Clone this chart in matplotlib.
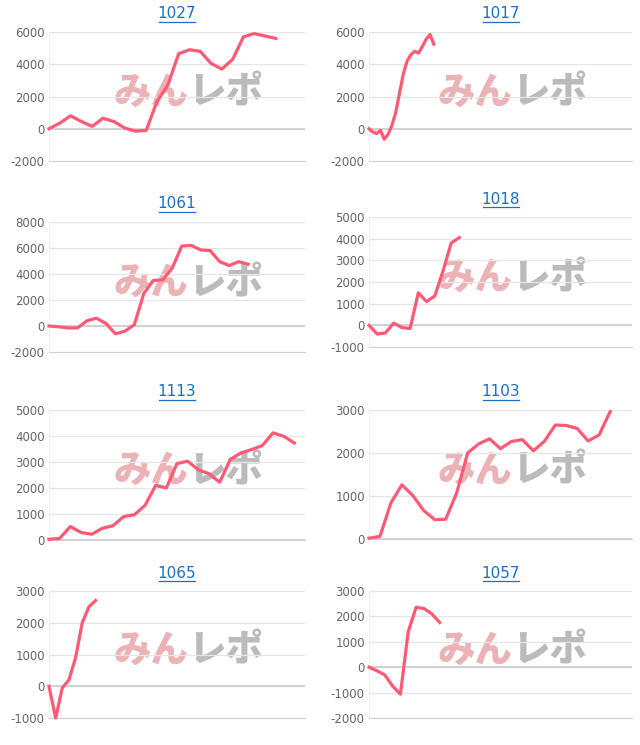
import matplotlib
matplotlib.use("Agg")
import matplotlib.pyplot as plt
from matplotlib.ticker import MultipleLocator

plt.rcParams["axes.unicode_minus"] = False

names = ["1027", "1017", "1061", "1018", "1113", "1103", "1065", "1057"]
s1027 = [0, 350, 800, 450, 150, 650, 450, 50, -150, -100, 1700, 2700, 4650, 4900, 4800, 4050, 3700, 4300, 5700, 5900, 5750, 5600]
s1017 = [0, -200, -300, -100, -650, -350, 200, 1000, 2200, 3400, 4200, 4600, 4800, 4700, 5100, 5550, 5850, 5250]
s1061 = [0, -60, -150, -150, 400, 600, 200, -600, -400, 100, 2500, 3500, 3550, 4450, 6150, 6200, 5850, 5800, 4950, 4650, 4950, 4750]
s1018 = [0, -400, -350, 100, -100, -150, 1500, 1100, 1350, 2500, 3800, 4050]
s1113 = [30, 60, 520, 290, 220, 450, 550, 900, 970, 1330, 2100, 2000, 2940, 3030, 2700, 2550, 2220, 3100, 3350, 3480, 3630, 4120, 3990, 3730]
s1103 = [20, 60, 840, 1260, 1010, 660, 450, 460, 1070, 2000, 2210, 2330, 2100, 2270, 2310, 2050, 2270, 2650, 2640, 2570, 2280, 2420, 2960]
s1065 = [0, -1000, -50, 200, 900, 2000, 2500, 2700]
s1057 = [0, -140, -300, -740, -1060, 1400, 2360, 2310, 2100, 1760]
series = [s1027, s1017, s1061, s1018, s1113, s1103, s1065, s1057]
xmax = [23.7, 69, 27, 32, 24, 24, 38.5, 33.5]
ylims = [(-2000, 6000), (-2000, 6000), (-2000, 8000), (-1000, 5000), (0, 5000), (0, 3000), (-1000, 3000), (-2000, 3000)]
ysteps = [2000, 2000, 2000, 1000, 1000, 1000, 1000, 1000]

boxes = [(49, 305, 32, 161), (369, 632, 32, 161),
         (49, 305, 222, 352), (369, 632, 217, 347),
         (49, 305, 410, 540), (369, 632, 410, 539),
         (49, 305, 591, 718), (369, 632, 591, 718)]

W, H = 640, 745
fig = plt.figure(figsize=(W / 100, H / 100), dpi=100)
fam = ["Noto Sans CJK JP", "DejaVu Sans"]
for i in range(8):
    x0, x1, yt, yb = boxes[i]
    ax = fig.add_axes([x0 / W, 1 - yb / H, (x1 - x0) / W, (yb - yt) / H])
    ax.set_xlim(0, xmax[i])
    ax.set_ylim(*ylims[i])
    ax.yaxis.set_major_locator(MultipleLocator(ysteps[i]))
    ax.grid(axis="y", color="#e6e6e6", lw=0.9)
    ax.axhline(0, color="#c8c8c8", lw=1.1, zorder=1)
    ax.set_xticks([])
    for s in ["top", "right"]:
        ax.spines[s].set_visible(False)
    ax.spines["left"].set_color("#eeeeee")
    ax.spines["bottom"].set_color("#d0d0d0")
    ax.tick_params(axis="y", length=0, labelsize=8.5, labelcolor="#666666", pad=3)
    ax.set_axisbelow(True)
    cxw = 0.375 + 140 / (x1 - x0) * 0.5 if False else 0.545
    ax.text(cxw, 0.53, "みん", transform=ax.transAxes, fontsize=27, fontweight="black",
            style="italic", color="#e59a9e", alpha=0.75, ha="right", va="center",
            family=fam, zorder=0)
    ax.text(cxw, 0.53, "レポ", transform=ax.transAxes, fontsize=27, fontweight="black",
            style="italic", color="#a5a5a5", alpha=0.75, ha="left", va="center",
            family=fam, zorder=0)
    ax.plot(range(len(series[i])), series[i], color="#ff5a75", lw=2.3, zorder=3,
            solid_joinstyle="round", clip_on=False)
    cx = (x0 + x1) / 2 / W
    fig.text(cx, 1 - (yt - 18) / H, names[i], ha="center", va="center",
             fontsize=11, color="#1a6fc4")
    fig.add_artist(plt.Line2D([cx - 18 / W, cx + 18 / W], [1 - (yt - 10) / H] * 2,
                              color="#1a6fc4", lw=0.9))

fig.savefig("out.png", dpi=100)
